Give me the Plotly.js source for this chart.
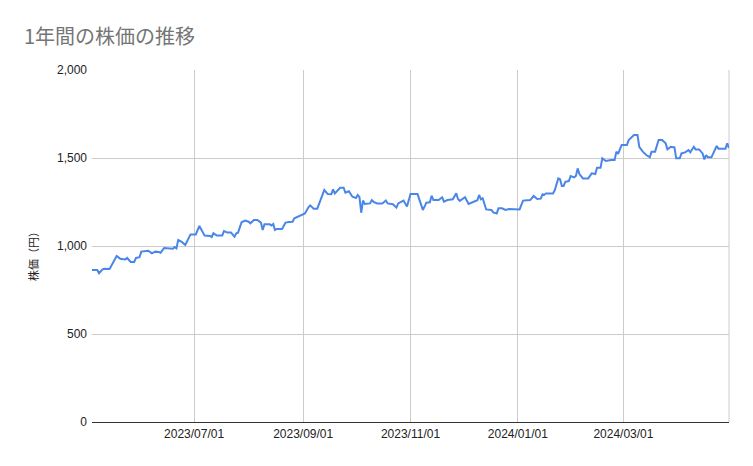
<!DOCTYPE html>
<html>
<head>
<meta charset="utf-8">
<script src="https://cdn.plot.ly/plotly-3.0.1.min.js"></script>
<style>html,body{margin:0;padding:0;background:#fff;}#chart{width:753px;height:466px;}</style>
</head>
<body>
<div id="chart"></div>
<script>
const dates = [
"2023-05-04","2023-05-07","2023-05-08","2023-05-10","2023-05-11","2023-05-14","2023-05-18","2023-05-20","2023-05-23","2023-05-24",
"2023-05-26","2023-05-28","2023-05-29","2023-05-31","2023-06-01","2023-06-04","2023-06-05","2023-06-07","2023-06-09","2023-06-11",
"2023-06-12","2023-06-14","2023-06-16","2023-06-19","2023-06-20","2023-06-21","2023-06-22","2023-06-24","2023-06-26","2023-06-29",
"2023-07-02","2023-07-04","2023-07-07","2023-07-10","2023-07-11","2023-07-12","2023-07-14","2023-07-17","2023-07-18","2023-07-20",
"2023-07-22","2023-07-24","2023-07-25","2023-07-26","2023-07-28","2023-07-30","2023-08-01","2023-08-02","2023-08-04","2023-08-06",
"2023-08-08","2023-08-09","2023-08-10","2023-08-13","2023-08-14","2023-08-15","2023-08-16","2023-08-17","2023-08-20","2023-08-22",
"2023-08-24","2023-08-26","2023-08-27","2023-08-29","2023-08-31","2023-09-02","2023-09-04","2023-09-05","2023-09-07","2023-09-09",
"2023-09-11","2023-09-13","2023-09-15","2023-09-17","2023-09-18","2023-09-19","2023-09-22","2023-09-24","2023-09-25","2023-09-27",
"2023-09-29","2023-10-01","2023-10-02","2023-10-03","2023-10-04","2023-10-05","2023-10-06","2023-10-09","2023-10-10","2023-10-11",
"2023-10-13","2023-10-16","2023-10-18","2023-10-19","2023-10-22","2023-10-24","2023-10-25","2023-10-27","2023-10-28","2023-10-30",
"2023-11-01","2023-11-04","2023-11-05","2023-11-06","2023-11-08","2023-11-09","2023-11-10","2023-11-12","2023-11-13","2023-11-14",
"2023-11-17","2023-11-19","2023-11-20","2023-11-22","2023-11-25","2023-11-27","2023-11-28","2023-11-29","2023-12-01","2023-12-02",
"2023-12-04","2023-12-06","2023-12-09","2023-12-10","2023-12-11","2023-12-12","2023-12-14","2023-12-17","2023-12-18","2023-12-20",
"2023-12-21","2023-12-23","2023-12-25","2023-12-27","2023-12-29","2024-01-02","2024-01-03","2024-01-04","2024-01-08","2024-01-10",
"2024-01-12","2024-01-14","2024-01-15","2024-01-16","2024-01-17","2024-01-21","2024-01-22","2024-01-24","2024-01-25","2024-01-26",
"2024-01-27","2024-01-28","2024-01-30","2024-01-31","2024-02-02","2024-02-03","2024-02-04","2024-02-05","2024-02-07","2024-02-10",
"2024-02-12","2024-02-14","2024-02-15","2024-02-17","2024-02-18","2024-02-20","2024-02-23","2024-02-25","2024-02-26","2024-02-27",
"2024-02-29","2024-03-03","2024-03-04","2024-03-07","2024-03-09","2024-03-10","2024-03-12","2024-03-14","2024-03-16","2024-03-17",
"2024-03-19","2024-03-21","2024-03-23","2024-03-25","2024-03-26","2024-03-27","2024-03-28","2024-03-30","2024-03-31","2024-04-02",
"2024-04-03","2024-04-05","2024-04-07","2024-04-08","2024-04-10","2024-04-11","2024-04-13","2024-04-15","2024-04-16","2024-04-17",
"2024-04-18","2024-04-20","2024-04-22","2024-04-23","2024-04-24","2024-04-28","2024-04-29","2024-04-30"
];
const prices = [
864,864,845,867,871,869,943,928,924,932,
909,909,932,936,968,972,973,958,968,966,
962,989,987,985,994,987,1034,1023,1006,1066,
1066,1114,1059,1057,1051,1072,1059,1059,1085,1076,
1076,1053,1072,1076,1135,1144,1138,1129,1148,1148,
1133,1091,1123,1123,1117,1125,1091,1097,1097,1133,
1136,1138,1157,1166,1176,1185,1220,1231,1212,1212,
1265,1318,1295,1294,1322,1299,1331,1331,1303,1311,
1280,1273,1290,1277,1189,1258,1239,1242,1261,1251,
1242,1242,1258,1242,1237,1218,1242,1256,1258,1224,
1295,1295,1295,1265,1205,1224,1246,1248,1286,1261,
1261,1277,1252,1261,1265,1299,1267,1256,1273,1277,
1239,1248,1260,1290,1265,1271,1208,1205,1191,1185,
1214,1214,1205,1210,1208,1208,1233,1258,1261,1284,
1267,1269,1294,1290,1299,1299,1318,1384,1379,1341,
1341,1365,1369,1398,1390,1398,1441,1409,1384,1384,
1413,1409,1445,1445,1498,1483,1489,1489,1536,1523,
1574,1574,1602,1631,1631,1564,1536,1517,1504,1536,
1536,1602,1602,1583,1549,1555,1564,1560,1498,1498,
1526,1532,1545,1532,1564,1549,1549,1526,1492,1517,
1504,1504,1545,1568,1553,1553,1583,1557
];
const tickDates = ["2023-07-01","2023-09-01","2023-11-01","2024-01-01","2024-03-01"];
const tickLabels = ["2023/07/01","2023/09/01","2023/11/01","2024/01/01","2024/03/01"];
const yTicks = [0, 500, 1000, 1500, 2000];

const trace = {
  x: dates, y: prices, type: 'scatter', mode: 'lines',
  line: {color: '#4a86e8', width: 2}, hoverinfo: 'x+y'
};

const layout = {
  width: 753, height: 466,
  margin: {l: 92, r: 24, t: 70, b: 44},
  paper_bgcolor: '#ffffff', plot_bgcolor: '#ffffff',
  font: {family: 'Arial, "Liberation Sans", "Noto Sans CJK JP", sans-serif', size: 12, color: '#222'},
  title: {
    text: '1年間の株価の推移',
    font: {family: '"Noto Sans CJK JP", sans-serif', size: 20, color: '#757575'},
    x: 24/753, xanchor: 'left', xref: 'container',
    y: 1 - 37/466, yanchor: 'middle', yref: 'container'
  },
  showlegend: false,
  xaxis: {
    type: 'date',
    range: [dates[0], dates[dates.length-1]],
    tickvals: tickDates, ticktext: tickLabels,
    showgrid: true, gridcolor: '#cccccc', gridwidth: 1,
    zeroline: false, showline: false, ticks: '',
    ticklabelstandoff: 3,
    tickfont: {family: 'Arial, "Liberation Sans", sans-serif', size: 12, color: '#222'}
  },
  yaxis: {
    range: [0, 2000],
    tickvals: yTicks, tickformat: ',d',
    showgrid: true, gridcolor: '#cccccc', gridwidth: 1,
    zeroline: true, zerolinecolor: '#333333', zerolinewidth: 1,
    showline: false, ticks: '',
    ticklabelstandoff: 4,
    tickfont: {family: 'Arial, "Liberation Sans", sans-serif', size: 12, color: '#222'}
  },
  shapes: [{
    type: 'line', xref: 'paper', yref: 'paper', x0: 1, x1: 1, y0: 0, y1: 1,
    line: {color: '#cccccc', width: 1}, layer: 'below'
  }],
  annotations: [{
    text: '株価（円）', xref: 'paper', yref: 'paper', x: 0, y: 0.5,
    xshift: -59, yshift: -8, xanchor: 'center', yanchor: 'middle',
    textangle: -90, showarrow: false,
    font: {family: '"Noto Sans CJK JP", sans-serif', size: 11, color: '#222'}
  }]
};

Plotly.newPlot('chart', [trace], layout, {staticPlot: true, displayModeBar: false});
</script>
</body>
</html>
